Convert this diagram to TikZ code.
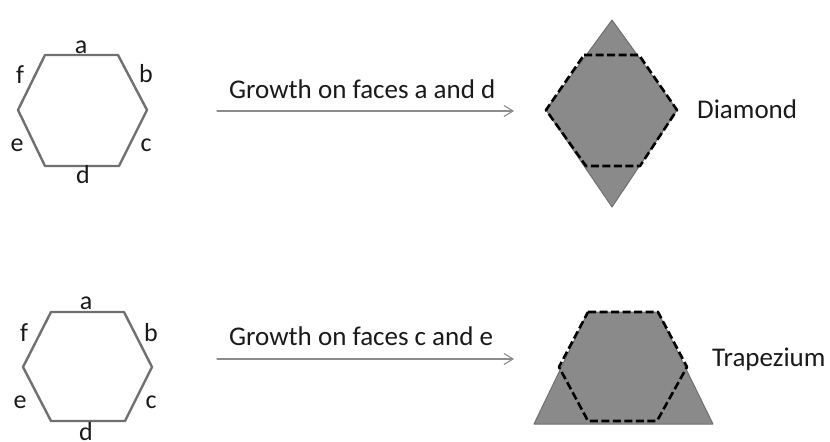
\documentclass[tikz,border=0pt]{standalone}
\usepackage{fontspec}
\setmainfont{Carlito}
\usetikzlibrary{arrows.meta}
\definecolor{habitInk}{HTML}{1A1A1A}
\definecolor{habitEdge}{HTML}{707070}
\definecolor{habitFill}{HTML}{8A8A8A}
\definecolor{habitArrow}{HTML}{8C8C8C}

\begin{document}
\begin{tikzpicture}[x=1pt,y=-1pt,>=Latex,line cap=round,line join=round]
\path[fill=white] (0,0) rectangle (830,437);
\tikzset{hexline/.style={draw=habitEdge,line width=2.4pt},crystal/.style={draw=habitEdge,fill=habitFill,line width=1pt},growline/.style={draw=black,line width=2.6pt,dash pattern=on 8pt off 3.5pt,line cap=butt},growarrow/.style={draw=habitArrow,line width=1.1pt,-{Straight Barb[length=9pt,width=11pt]}},facelabel/.style={text=habitInk,font=\fontsize{26}{30}\selectfont,inner sep=0pt},caption/.style={text=habitInk,font=\fontsize{27}{32}\selectfont,inner sep=0pt}}
% top row: faces a and d
\draw[hexline] (45,55) -- (118,55) -- (147,110) -- (119,166) -- (45,166) -- (18,110) -- cycle;
\node[facelabel] (ta) at (81,47) {a}; \node[facelabel] (tb) at (146,74) {b}; \node[facelabel] (tc) at (146,145) {c};
\node[facelabel] (td) at (83,175) {d}; \node[facelabel] (te) at (17,145) {e}; \node[facelabel] (tf) at (20,75) {f};
\coordinate (topstart) at (217,111); \coordinate (topend) at (514,111);
\draw[growarrow] (topstart) -- (topend);
\node[caption,anchor=base west] (topgrowth) at (229,98) {Growth on faces a and d};
\draw[crystal] (612,20) -- (677,110) -- (612,207) -- (546,110) -- cycle;
\draw[growline] (584,55) -- (639,55) -- (677,110) -- (640,166) -- (586,166) -- (546,110) -- cycle;
\node[caption,anchor=base west] (diamond) at (697,118) {Diamond};
% bottom row: faces c and e
\draw[hexline] (51,312) -- (124,312) -- (152,367) -- (125,421) -- (51,421) -- (23,367) -- cycle;
\node[facelabel] (ba) at (86,303) {a}; \node[facelabel] (bb) at (151,333) {b}; \node[facelabel] (bc) at (151,402) {c};
\node[facelabel] (bd) at (86,432) {d}; \node[facelabel] (be) at (20,402) {e}; \node[facelabel] (bf) at (24,333) {f};
\coordinate (botstart) at (217,359); \coordinate (botend) at (514,359);
\draw[growarrow] (botstart) -- (botend);
\node[caption,anchor=base west] (botgrowth) at (229,345) {Growth on faces c and e};
\draw[crystal] (588,312) -- (658,312) -- (713,424) -- (534,424) -- cycle;
\draw[growline] (588,312) -- (658,312) -- (687,367) -- (657,421) -- (588,421) -- (559,367) -- cycle;
\node[caption,anchor=base west] (trapezium) at (712,366) {Trapezium};
\end{tikzpicture}
\end{document}
